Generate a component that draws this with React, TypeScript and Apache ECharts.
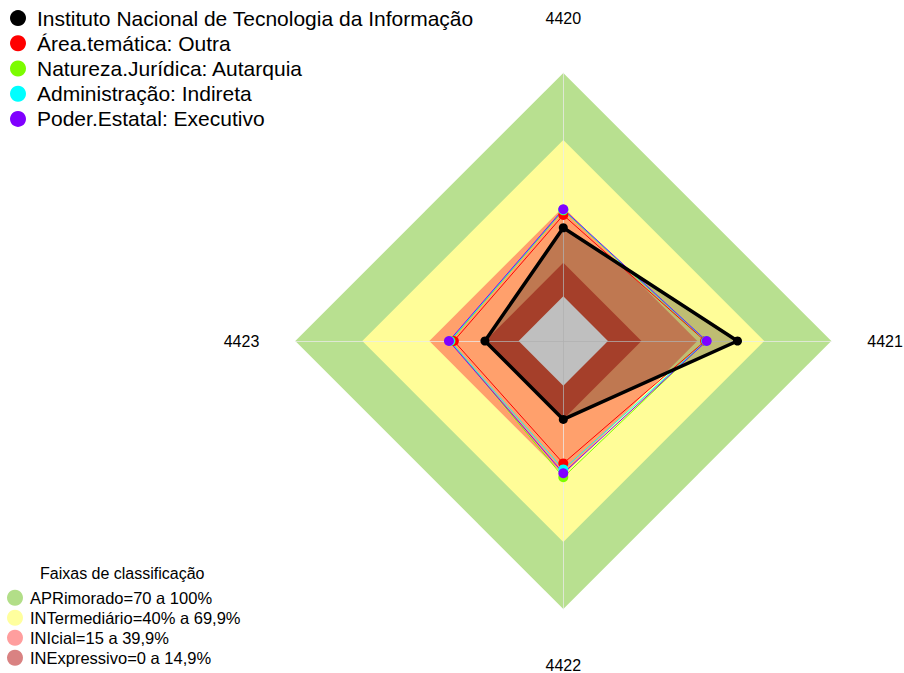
import React, { useEffect, useRef } from "react";
import * as echarts from "echarts";

// Indicators in ECharts' counter-clockwise order starting at the top
const indicatorNames = ["4420", "4423", "4422", "4421"];
const axisMin = -20;
const axisMax = 100;

const seriesNames = [
  "Instituto Nacional de Tecnologia da Informação",
  "Área.temática: Outra",
  "Natureza.Jurídica: Autarquia",
  "Administração: Indireta",
  "Poder.Estatal: Executivo",
];
const seriesColors = ["#000000", "#FF0000", "#7CFC00", "#00FFFF", "#8000FF"];

// values in indicator order: 4420, 4423, 4422, 4421
const instituto = [30.7, 15.1, 15.1, 58.0];
const areaTematica = [36.4, 29.0, 34.8, 43.5];
const naturezaJuridica = [38.5, 30.5, 41.0, 44.0];
const administracao = [38.8, 30.8, 37.5, 44.0];
const poderEstatal = [39.0, 31.2, 39.2, 44.2];
const seriesValues = [instituto, areaTematica, naturezaJuridica, administracao, poderEstatal];

// classification bands
const bandNames = [
  "APRimorado=70 a 100%",
  "INTermediário=40% a 69,9%",
  "INIcial=15 a 39,9%",
  "INExpressivo=0 a 14,9%",
];
const bandUpper = [100, 70, 40, 15];
const bandFill = ["#B8E090", "#FFFD98", "#FFA06C", "#DD5438"];
const bandLegendColors = ["#B2DE88", "#FFFF9E", "#FF9E9E", "#D98282"];
const centerLevel = 0;

const FONT = "'Liberation Sans', Arial, sans-serif";

export default function App() {
  const ref = useRef<HTMLDivElement>(null);

  useEffect(() => {
    document.body.style.margin = "0";
    if (!ref.current) return;
    const chart = echarts.init(ref.current, null, { renderer: "svg" });

    const bandSeries: any[] = bandNames.map((name, i) => ({
      type: "radar",
      name,
      z: 1,
      silent: true,
      symbol: "none",
      lineStyle: { width: 0, opacity: 0 },
      itemStyle: { color: bandFill[i] },
      areaStyle: { color: bandFill[i], opacity: 1 },
      data: [{ name, value: indicatorNames.map(() => bandUpper[i]) }],
    }));
    bandSeries.push({
      type: "radar",
      name: "centro",
      z: 1,
      silent: true,
      symbol: "none",
      lineStyle: { width: 0, opacity: 0 },
      itemStyle: { color: "#FFFFFF" },
      areaStyle: { color: "#FFFFFF", opacity: 1 },
      data: [{ name: "centro", value: indicatorNames.map(() => centerLevel) }],
    });

    const coloredSeries = seriesNames.slice(1).map((name, k) => {
      const i = k + 1;
      return {
        type: "radar",
        name,
        z: 2,
        symbol: "circle",
        symbolSize: 10,
        lineStyle: { color: seriesColors[i], width: 1 },
        itemStyle: { color: seriesColors[i] },
        data: [{ name, value: seriesValues[i] }],
      };
    });

    const blackArea = {
      type: "radar",
      name: seriesNames[0],
      z: 2,
      symbol: "none",
      lineStyle: { width: 0, opacity: 0 },
      itemStyle: { color: seriesColors[0] },
      areaStyle: { color: "rgba(0,0,0,0.25)", opacity: 1 },
      data: [{ name: seriesNames[0], value: seriesValues[0] }],
    };
    const blackLine = {
      type: "radar",
      name: seriesNames[0],
      z: 3,
      symbol: "circle",
      symbolSize: 9,
      lineStyle: { color: seriesColors[0], width: 3.5 },
      itemStyle: { color: seriesColors[0] },
      data: [{ name: seriesNames[0], value: seriesValues[0] }],
    };

    chart.setOption({
      animation: false,
      textStyle: { fontFamily: FONT },
      title: {
        text: "Faixas de classificação",
        left: 40,
        top: 565,
        padding: 0,
        textStyle: { fontSize: 16, fontWeight: "normal", color: "#000", fontFamily: FONT },
      },
      legend: [
        {
          orient: "vertical",
          left: 10,
          top: 5.5,
          padding: 0,
          height: 140,
          itemGap: 0,
          itemWidth: 16,
          itemHeight: 16,
          icon: "circle",
          selectedMode: false,
          textStyle: { fontSize: 21, lineHeight: 25.2, color: "#000", fontFamily: FONT, padding: [0, 0, 0, 6] },
          data: seriesNames.map((name, i) => ({ name, itemStyle: { color: seriesColors[i] } })),
        },
        {
          orient: "vertical",
          left: 7,
          top: 587.7,
          padding: 0,
          height: 85,
          itemGap: 0,
          itemWidth: 16,
          itemHeight: 16,
          icon: "circle",
          selectedMode: false,
          textStyle: { fontSize: 16.5, lineHeight: 20, color: "#000", fontFamily: FONT, padding: [0, 0, 0, 2] },
          data: bandNames.map((name, i) => ({ name, itemStyle: { color: bandLegendColors[i] } })),
        },
      ],
      radar: {
        center: [563.3, 341],
        radius: 268,
        shape: "polygon",
        startAngle: 90,
        z: 1.5,
        nameGap: 36,
        axisName: {
          color: "#000",
          fontSize: 16,
          fontFamily: FONT,
          padding: [12, 0, 11, 0],
        },
        indicator: indicatorNames.map((name) => ({ name, min: axisMin, max: axisMax })),
        splitNumber: 1,
        splitLine: { show: false },
        splitArea: { show: false },
        axisLine: { show: true, lineStyle: { color: "rgba(235,235,235,0.75)", width: 1 } },
        axisTick: { show: false },
        axisLabel: { show: false },
      },
      series: [...bandSeries, blackArea, ...coloredSeries, blackLine],
    });

    return () => chart.dispose();
  }, []);

  return <div ref={ref} style={{ width: 904, height: 673 }} />;
}
